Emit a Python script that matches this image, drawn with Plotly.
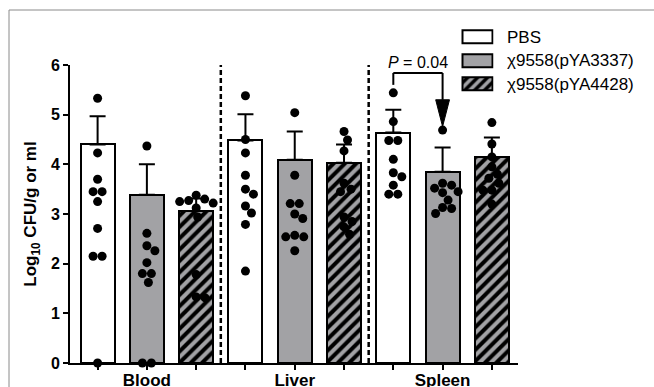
import plotly.graph_objects as go

# ---------------- data ----------------
organs = ["Blood", "Liver", "Spleen"]
series_names = ["PBS", "χ9558(pYA3337)", "χ9558(pYA4428)"]

bar_pbs = [4.40, 4.48, 4.64]
bar_3337 = [3.39, 4.09, 3.85]
bar_4428 = [3.06, 4.03, 4.14]

sem_pbs = [0.57, 0.53, 0.46]
sem_3337 = [0.61, 0.57, 0.49]
sem_4428 = [0.25, 0.37, 0.40]

pts_pbs = [
    [5.33, 4.23, 3.70, 3.45, 3.45, 3.25, 2.71, 2.15, 2.15, 0.0],
    [5.38, 4.50, 4.23, 3.78, 3.50, 3.40, 3.16, 3.02, 2.79, 1.85],
    [5.44, 4.86, 4.48, 4.48, 4.10, 3.83, 3.75, 3.58, 3.40, 3.40],
]
pts_3337 = [
    [4.37, 2.61, 2.36, 2.26, 2.02, 1.80, 1.80, 1.62, 0.0, 0.0],
    [5.04, 3.78, 3.21, 3.21, 3.00, 2.91, 2.57, 2.54, 2.54, 2.26],
    [4.69, 3.62, 3.58, 3.52, 3.45, 3.43, 3.28, 3.13, 3.11, 3.01],
]
pts_4428 = [
    [3.38, 3.30, 3.27, 3.25, 3.22, 3.12, 2.94, 1.78, 1.33, 1.31],
    [4.66, 4.49, 4.27, 3.62, 3.50, 3.45, 2.94, 2.85, 2.74, 2.59],
    [4.84, 4.41, 4.15, 3.95, 3.80, 3.72, 3.62, 3.48, 3.48, 3.20],
]

p_text = "<i>P</i> = 0.04"
y_ticks = [0, 1, 2, 3, 4, 5, 6]

# ---------------- style / layout ----------------
W, H = 654, 387
ML, MR, MT, MB = 70, 136, 20, 24
PLOT_W = W - ML - MR
PLOT_H = H - MT - MB
Y_TOP_PX = 65                      # pixel of y = 6
Y_DOMAIN_TOP = (H - MB - Y_TOP_PX) / PLOT_H
X_RANGE = [-0.56, 8.53]
Y_RANGE = [0, 6]
XU = PLOT_W / (X_RANGE[1] - X_RANGE[0])          # px per x unit
YU = (PLOT_H * Y_DOMAIN_TOP) / (Y_RANGE[1] - Y_RANGE[0])  # px per y unit

FONT = "Liberation Sans, Arial, sans-serif"
GRAY = "#a2a2a5"
MARKER_D = 9.0


def xpaper(x):
    return (x - X_RANGE[0]) / (X_RANGE[1] - X_RANGE[0])


def ypaper(y):
    return (y - Y_RANGE[0]) / (Y_RANGE[1] - Y_RANGE[0]) * Y_DOMAIN_TOP


series = [
    dict(name=series_names[0], bars=bar_pbs, sem=sem_pbs, pts=pts_pbs,
         color="white", pattern=None),
    dict(name=series_names[1], bars=bar_3337, sem=sem_3337, pts=pts_3337,
         color=GRAY, pattern=None),
    dict(name=series_names[2], bars=bar_4428, sem=sem_4428, pts=pts_4428,
         color=GRAY, pattern=dict(shape="/", fgcolor="black", bgcolor=GRAY,
                                  size=8, solidity=0.5, fillmode="replace")),
]


def swarm(vals):
    """Deterministic beeswarm offsets (x units) so dots do not overlap."""
    order = sorted(range(len(vals)), key=lambda k: -vals[k])
    placed = {}
    step = 0.5
    cands = [0.0]
    for n in range(1, 200):
        cands += [n * step, -n * step]
    for k in order:
        ypx = vals[k] * YU
        for c in cands:
            if all((c - px) ** 2 + (ypx - py) ** 2 >= MARKER_D ** 2
                   for px, py in placed.values()):
                break
        placed[k] = (c, ypx)
    done = set()
    for k in order:
        if k in done:
            continue
        same = [j for j in range(len(vals)) if vals[j] == vals[k]]
        done.update(same)
        if len(same) > 1:
            m = sum(placed[j][0] for j in same) / len(same)
            trial = {j: (placed[j][0] - m, placed[j][1]) for j in same}
            ok = all((trial[a][0] - placed[b][0]) ** 2 + (trial[a][1] - placed[b][1]) ** 2 >= MARKER_D ** 2
                     for a in same for b in placed if b not in same)
            if ok:
                placed.update(trial)
    return [placed[k][0] / XU for k in range(len(vals))]


fig = go.Figure()

for i, s in enumerate(series):
    xs = [3 * g + i for g in range(len(organs))]
    marker = dict(color=s["color"], line=dict(color="black", width=2))
    if s["pattern"]:
        marker["pattern"] = s["pattern"]
    fig.add_trace(go.Bar(
        x=xs, y=s["bars"], width=0.69, marker=marker, name=s["name"],
        showlegend=False,
        error_y=dict(type="data", array=s["sem"], arrayminus=[0] * len(xs),
                     symmetric=False, color="black", thickness=2, width=8),
    ))

for i, s in enumerate(series):
    px, py = [], []
    for g, vals in enumerate(s["pts"]):
        offs = swarm(vals)
        px += [3 * g + i + o for o in offs]
        py += vals
    fig.add_trace(go.Scatter(
        x=px, y=py, mode="markers", showlegend=False, cliponaxis=False,
        marker=dict(color="black", size=MARKER_D, line=dict(width=0)),
    ))

# legend swatches on a small hidden subplot
LEG_Y0_PX, LEG_STEP_PX = 37, 23.5
for i, s in enumerate(series):
    marker = dict(color=s["color"], line=dict(color="black", width=2))
    if s["pattern"]:
        marker["pattern"] = dict(s["pattern"], size=7)
    fig.add_trace(go.Bar(
        x=[1], y=[i], base=0, orientation="h", width=0.55, marker=marker,
        xaxis="x2", yaxis="y2", showlegend=False, hoverinfo="skip",
    ))
    fig.add_annotation(
        x=(505 - ML) / PLOT_W, y=(H - MB - (LEG_Y0_PX + LEG_STEP_PX * i)) / PLOT_H,
        xref="paper", yref="paper", text=s["name"], showarrow=False,
        xanchor="left", yanchor="middle",
        font=dict(family=FONT, size=17, color="black"),
    )

# group separators
for g in range(1, len(organs)):
    xd = 3 * g - 0.5
    fig.add_shape(type="line", xref="x", yref="y", x0=xd, x1=xd, y0=0, y1=6,
                  line=dict(color="black", width=2.5, dash="5px,3px"))

# significance bracket (Spleen: PBS vs pYA3337)
xa, xb = 6, 7
yb, ydrop, abase, atip, hw = 5.84, 5.60, 5.30, 4.76, 0.14
lw = dict(color="black", width=2)
fig.add_shape(type="line", xref="x", yref="y", x0=xa, x1=xa, y0=ydrop, y1=yb, line=lw)
fig.add_shape(type="line", xref="x", yref="y", x0=xa, x1=xb, y0=yb, y1=yb, line=lw)
fig.add_shape(type="line", xref="x", yref="y", x0=xb, x1=xb, y0=yb, y1=abase, line=lw)
fig.add_shape(type="path", xref="x", yref="y",
              path=f"M {xb - hw},{abase} L {xb + hw},{abase} L {xb},{atip} Z",
              fillcolor="black", line=dict(color="black", width=1))
fig.add_annotation(x=xpaper((xa + xb) / 2), y=ypaper(6.05), xref="paper", yref="paper",
                   text=p_text, showarrow=False, xanchor="center", yanchor="middle",
                   font=dict(family=FONT, size=16, color="black"))

# outer frame
fig.add_shape(type="rect", xref="paper", yref="paper",
              x0=(9 - ML) / PLOT_W, x1=1.6, y0=-0.5, y1=(H - MB - 10) / PLOT_H,
              line=dict(color="#8a8a8a", width=1), layer="below")

tickvals = [3 * g + i for g in range(len(organs)) for i in range(3)]
ticktext = [organs[g] if i == 1 else "" for g in range(len(organs)) for i in range(3)]

fig.update_layout(
    width=W, height=H,
    margin=dict(l=ML, r=MR, t=MT, b=MB, autoexpand=False),
    paper_bgcolor="white", plot_bgcolor="white",
    font=dict(family=FONT, color="black"),
    bargap=0, showlegend=False,
    xaxis=dict(range=X_RANGE, tickvals=tickvals, ticktext=ticktext,
               automargin=False, ticklabelstandoff=-4,
               showline=True, linewidth=2, linecolor="black",
               ticks="outside", ticklen=5, tickwidth=2, tickcolor="black",
               showgrid=False, zeroline=False,
               tickfont=dict(family=FONT, size=17, weight="bold")),
    yaxis=dict(range=Y_RANGE, domain=[0, Y_DOMAIN_TOP], tickvals=y_ticks,
               automargin=False,
               showline=True, linewidth=2, linecolor="black",
               ticks="outside", ticklen=5, tickwidth=2, tickcolor="black",
               showgrid=False, zeroline=False,
               tickfont=dict(family=FONT, size=16, weight="bold"),
               title=dict(text="Log<sub>10</sub> CFU/g or ml", standoff=10,
                          font=dict(family=FONT, size=17, weight="bold"))),
    xaxis2=dict(domain=[(460.5 - ML) / PLOT_W, (493.5 - ML) / PLOT_W],
                range=[-0.05, 1.05], anchor="y2", visible=False),
    yaxis2=dict(domain=[(H - MB - 95.75) / PLOT_H, (H - MB - 25.25) / PLOT_H],
                range=[2.5, -0.5], anchor="x2", visible=False),
)

fig.write_html("out.html", config={"displayModeBar": False},
               post_script="document.body.style.margin='0';document.body.style.overflow='hidden';")
